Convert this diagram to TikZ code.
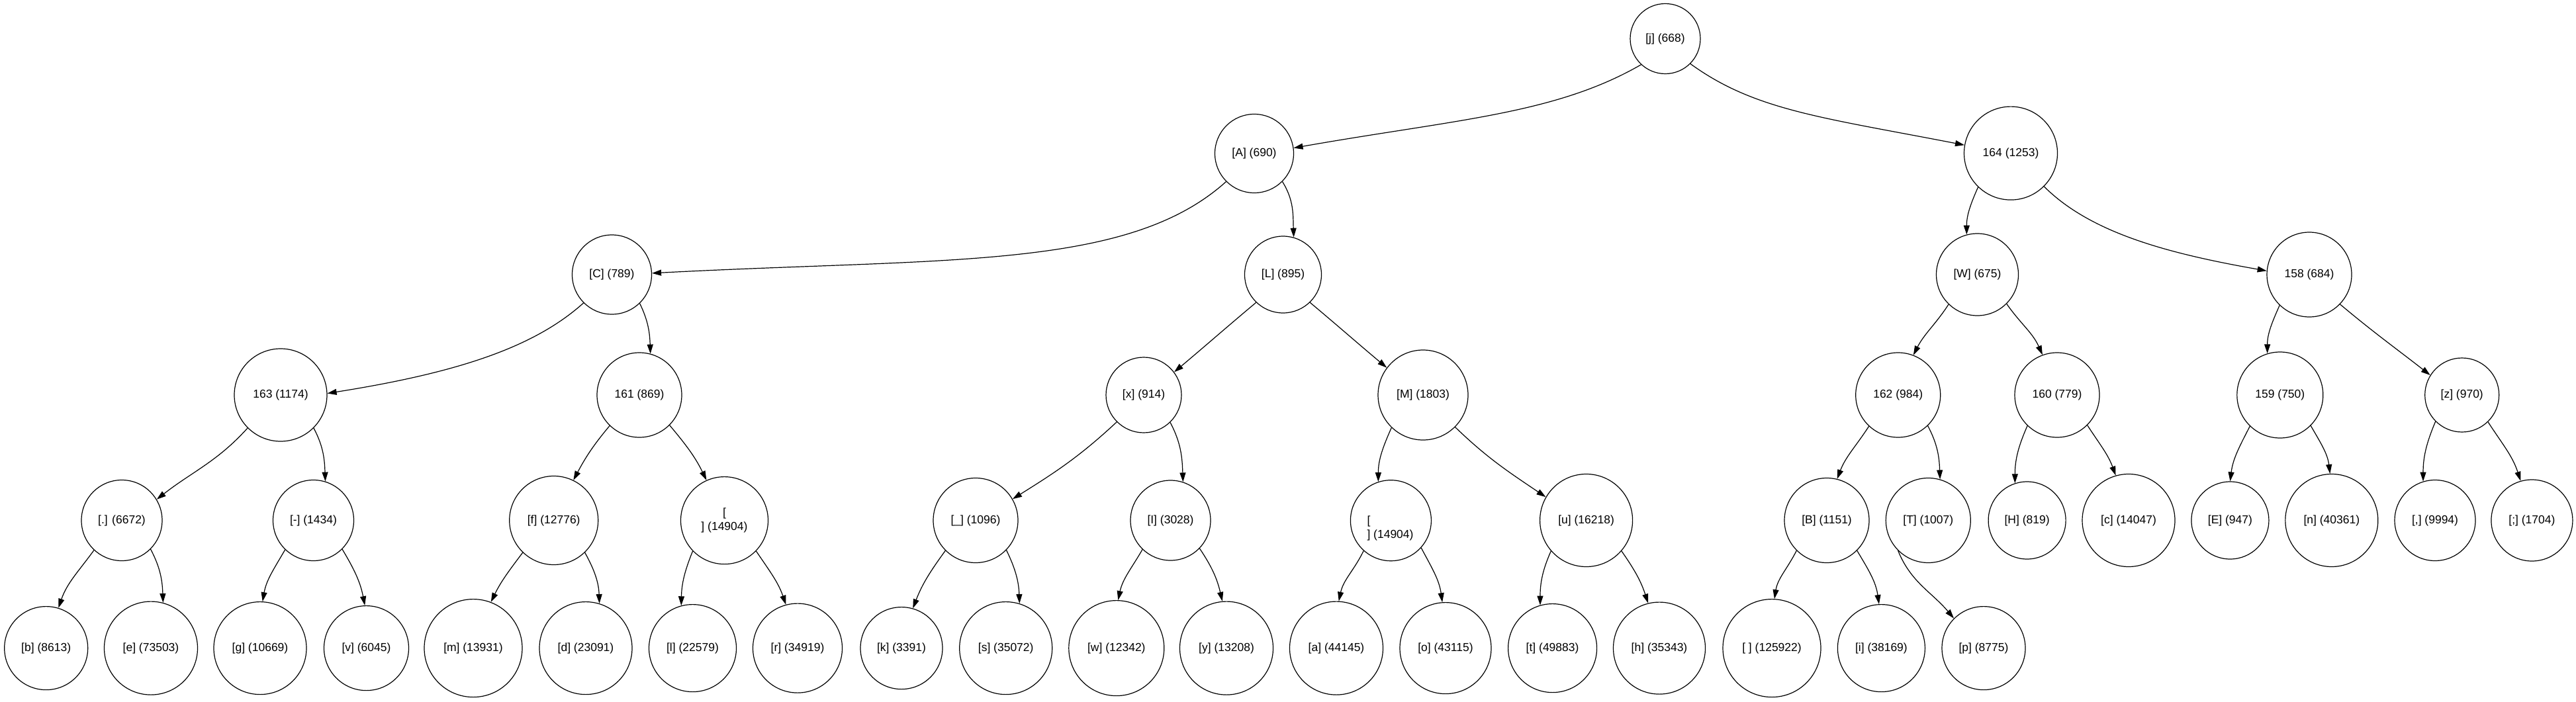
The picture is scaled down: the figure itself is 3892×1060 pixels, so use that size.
\documentclass[tikz,border=0pt]{standalone}
\usepackage{fontspec}
\setmainfont{Liberation Sans}
\usetikzlibrary{arrows.meta}
\newcommand\tnd[5]{\node[tnode,minimum size=#4pt] (#1) at (#2,-#3) {#5};}
\begin{document}
\begin{tikzpicture}[x=1pt,y=1pt,
  tfont/.style={font=\fontsize{17.5}{20.6}\selectfont},
  tnode/.style={circle,draw,line width=1.2pt,inner sep=0pt,tfont},
  edgeln/.style={line width=1.2pt,-{Triangle[length=14pt,width=9pt]}}]
\fill[white] (0,0) rectangle (3892,-1060);
\useasboundingbox (0,0) rectangle (3892,-1060);
% level 0
\tnd{j}{2516}{58.5}{106}{[j] (668)}
% level 1
\tnd{A}{1895}{232}{119}{[A] (690)}
\tnd{n164}{3038}{231.6}{141}{164 (1253)}
% level 2
\tnd{C}{924.5}{415}{120}{[C] (789)}
\tnd{L}{1938.5}{415}{116}{[L] (895)}
\tnd{W}{2987.5}{415}{124}{[W] (675)}
\tnd{n158}{3489}{415}{128}{158 (684)}
% level 3
\tnd{n163}{424}{597}{140}{163 (1174)}
\tnd{n161}{966}{597}{128}{161 (869)}
\tnd{x}{1728}{597}{114}{[x] (914)}
\tnd{M}{2150}{597}{136}{[M] (1803)}
\tnd{n162}{2867.7}{597}{128}{162 (984)}
\tnd{n160}{3108}{597}{128}{160 (779)}
\tnd{n159}{3444.8}{597}{130}{159 (750)}
\tnd{z}{3719.7}{597}{112}{[z] (970)}
% level 4
\tnd{dot}{184}{786.5}{122}{[.] (6672)}
\tnd{dash}{473.5}{786.5}{122}{[-] (1434)}
\tnd{f}{836.7}{786.5}{134}{[f] (12776)}
\node[tnode,minimum size=132pt,align=center] (nl1) at (1094.5,-786.6) {[\\] (14904)};
\tnd{us}{1474}{786.5}{128}{[\_] (1096)}
\tnd{I}{1768.5}{786.5}{121}{[I] (3028)}
\node[tnode,minimum size=122pt] (nl2) at (2101.4,-786.7) {};
\node[tfont,align=left,inner sep=0pt] (nl2t) at (2100.5,-798.4) {[\\] (14904)};
\tnd{u}{2396.6}{786.5}{140}{[u] (16218)}
\tnd{B}{2760}{786.5}{128}{[B] (1151)}
\tnd{T}{2913.3}{786.5}{128}{[T] (1007)}
\tnd{H}{3062.6}{786.5}{117}{[H] (819)}
\tnd{c}{3216}{786.5}{140}{[c] (14047)}
\tnd{E}{3369.4}{786.5}{117}{[E] (947)}
\tnd{nn}{3522.8}{786.5}{140}{[n] (40361)}
\tnd{comma}{3679}{786.5}{122}{[,] (9994)}
\tnd{semi}{3825.4}{786.5}{123}{[;] (1704)}
% level 5
\tnd{b}{69.7}{979.6}{126}{[b] (8613)}
\tnd{e}{228}{979.6}{141}{[e] (73503)}
\tnd{g}{393}{979.6}{140}{[g] (10669)}
\tnd{v}{553.5}{979.6}{128}{[v] (6045)}
\tnd{m}{715}{979.6}{148}{[m] (13931)}
\tnd{d}{885}{979.6}{140}{[d] (23091)}
\tnd{l}{1046.5}{979.6}{132}{[l] (22579)}
\tnd{r}{1205}{979.6}{135}{[r] (34919)}
\tnd{k}{1362}{979.6}{124}{[k] (3391)}
\tnd{s}{1519.7}{979.6}{140}{[s] (35072)}
\tnd{w}{1686.8}{979.6}{144}{[w] (12342)}
\tnd{y}{1853}{979.6}{141}{[y] (13208)}
\tnd{a}{2019}{979.6}{141}{[a] (44145)}
\tnd{o}{2184}{979.6}{138}{[o] (43115)}
\tnd{t}{2345.6}{979.6}{134}{[t] (49883)}
\tnd{h}{2507}{979.6}{139}{[h] (35343)}
\tnd{sp}{2677}{979.6}{148}{[ ] (125922)}
\tnd{i}{2842.4}{979.6}{132}{[i] (38169)}
\tnd{p}{2997}{979.6}{126}{[p] (8775)}
% edges
\draw[edgeln] (j.-133) to[out=-150,in=10,out distance=150pt,in distance=250pt] (A.8);
\draw[edgeln] (j.-45) to[out=-36,in=169,out distance=120pt,in distance=220pt] (n164.170);
\draw[edgeln] (A.-135) to[out=-138,in=3,out distance=200pt,in distance=450pt] (C.2);
\draw[edgeln] (A.-45) to[out=-58,in=92] (L.74);
\draw[edgeln] (C.-135) to[out=-138,in=9,out distance=100pt,in distance=200pt] (n163.2);
\draw[edgeln] (C.-46) to[out=-64,in=92] (n161.75);
\draw[edgeln] (L.-134) to[out=-140,in=40] (x.37);
\draw[edgeln] (L.-46) to[out=-40,in=140] (M.143);
\draw[edgeln] (n164.-134) to[out=-114,in=90] (W.105);
\draw[edgeln] (n164.-45) to[out=-45,in=170,out distance=100pt,in distance=150pt] (n158.175);
\draw[edgeln] (W.-134) to[out=-123,in=63] (n162.69);
\draw[edgeln] (W.-45) to[out=-55,in=114] (n160.110);
\draw[edgeln] (n158.-134) to[out=-114,in=90] (n159.107);
\draw[edgeln] (n158.-44) to[out=-40,in=142] (z.148);
\draw[edgeln] (n163.-135) to[out=-132,in=38] (dot.31);
\draw[edgeln] (n163.-45) to[out=-62,in=92] (dash.73);
\draw[edgeln] (n161.-134) to[out=-130,in=62] (f.64);
\draw[edgeln] (n161.-45) to[out=-50,in=116] (nl1.114);
\draw[edgeln] (x.-135) to[out=-137,in=32] (us.30);
\draw[edgeln] (x.-46) to[out=-62,in=92] (I.72);
\draw[edgeln] (M.-134) to[out=-114,in=90] (nl2.108);
\draw[edgeln] (M.-45) to[out=-44,in=146] (u.150);
\draw[edgeln] (n162.-133) to[out=-123,in=69] (B.76);
\draw[edgeln] (n162.-46) to[out=-62,in=92] (T.74);
\draw[edgeln] (n160.-134) to[out=-114,in=90] (H.108);
\draw[edgeln] (n160.-45) to[out=-57,in=110] (c.106);
\draw[edgeln] (n159.-134) to[out=-117,in=83] (E.90);
\draw[edgeln] (n159.-45) to[out=-60,in=97] (nn.92);
\draw[edgeln] (z.-135) to[out=-113,in=90] (comma.107);
\draw[edgeln] (z.-46) to[out=-57,in=108] (semi.106);
\draw[edgeln] (dot.-133) to[out=-126,in=71] (b.73);
\draw[edgeln] (dot.-45) to[out=-62,in=92] (e.75);
\draw[edgeln] (dash.-134) to[out=-120,in=80] (g.87);
\draw[edgeln] (dash.-45) to[out=-59,in=101] (v.92);
\draw[edgeln] (f.-134) to[out=-127,in=64] (m.69);
\draw[edgeln] (f.-46) to[out=-61,in=92] (d.73);
\draw[edgeln] (nl1.-136) to[out=-112,in=89] (l.105);
\draw[edgeln] (nl1.-44) to[out=-56,in=109] (r.105);
\draw[edgeln] (us.-135) to[out=-126,in=69] (k.74);
\draw[edgeln] (us.-44) to[out=-64,in=92] (s.73);
\draw[edgeln] (I.-134) to[out=-120,in=78] (w.88);
\draw[edgeln] (I.-44) to[out=-56,in=103] (y.95);
\draw[edgeln] (nl2.-132) to[out=-116,in=78] (a.87);
\draw[edgeln] (nl2.-42) to[out=-62,in=98] (o.94);
\draw[edgeln] (u.-139) to[out=-114,in=90] (t.106);
\draw[edgeln] (u.-41) to[out=-55,in=108] (h.104);
\draw[edgeln] (B.-135) to[out=-117,in=81] (sp.87);
\draw[edgeln] (B.-45) to[out=-59,in=98] (i.93);
\draw[edgeln] (T.-135) to[out=-68,in=130] (p.135);
\end{tikzpicture}
\end{document}
